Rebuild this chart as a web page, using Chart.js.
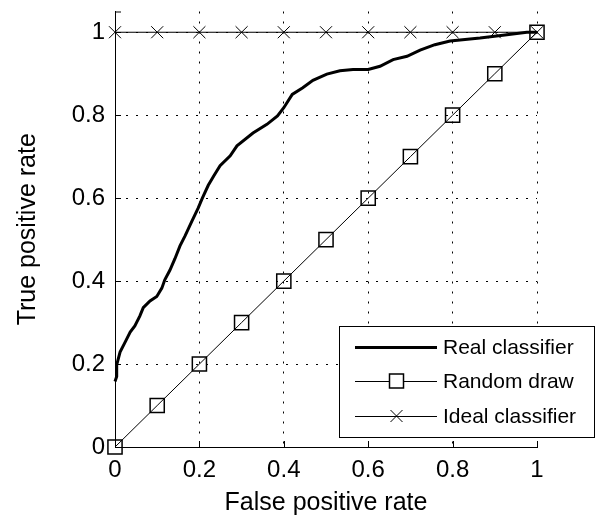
<!DOCTYPE html>
<html><head><meta charset="utf-8">
<script src="https://cdn.jsdelivr.net/npm/chart.js@4.4.0/dist/chart.umd.min.js"></script>
<style>html,body{margin:0;padding:0;background:#fff;} canvas{display:block;}</style>
</head><body>
<canvas id="c" width="596" height="519"></canvas>
<script>
const realFpr = [0, 0.004, 0.004, 0.012, 0.024, 0.036, 0.047, 0.059, 0.067, 0.083, 0.099, 0.111, 0.118, 0.130, 0.142, 0.154, 0.166, 0.182, 0.197, 0.207, 0.221, 0.235, 0.249, 0.273, 0.289, 0.327, 0.360, 0.385, 0.400, 0.420, 0.445, 0.469, 0.502, 0.533, 0.564, 0.600, 0.628, 0.659, 0.692, 0.723, 0.758, 0.794, 0.865, 0.919, 0.976, 1];
const realTpr = [0.158, 0.170, 0.198, 0.229, 0.253, 0.277, 0.292, 0.316, 0.336, 0.352, 0.363, 0.383, 0.403, 0.426, 0.454, 0.485, 0.509, 0.544, 0.576, 0.600, 0.631, 0.655, 0.678, 0.702, 0.726, 0.757, 0.778, 0.798, 0.818, 0.850, 0.866, 0.884, 0.899, 0.907, 0.910, 0.910, 0.918, 0.934, 0.942, 0.957, 0.970, 0.979, 0.986, 0.993, 1.0, 1.0];
const randomFpr = [0, 0.1, 0.2, 0.3, 0.4, 0.5, 0.6, 0.7, 0.8, 0.9, 1];
const randomTpr = [0, 0.1, 0.2, 0.3, 0.4, 0.5, 0.6, 0.7, 0.8, 0.9, 1];
const idealFpr = [0, 0.1, 0.2, 0.3, 0.4, 0.5, 0.6, 0.7, 0.8, 0.9, 1];
const idealTpr = [1, 1, 1, 1, 1, 1, 1, 1, 1, 1, 1];
const xTicks = [0, 0.2, 0.4, 0.6, 0.8, 1];
const yTicks = [0, 0.2, 0.4, 0.6, 0.8, 1];
const seriesNames = ['Real classifier', 'Random draw', 'Ideal classifier'];
const xTitle = 'False positive rate';
const yTitle = 'True positive rate';

const FONT = "'Liberation Sans', Arial, sans-serif";
const toPts = (xs, ys) => xs.map((x, i) => ({x: x, y: ys[i]}));
const fmt = v => String(Math.round(v * 10) / 10);

const axisPlugin = {
  id: 'axisExtras',
  afterDraw(chart) {
    const ctx = chart.ctx;
    const xs = chart.scales.x, ys = chart.scales.y;
    const a = chart.chartArea;
    ctx.save();
    ctx.strokeStyle = '#000';
    ctx.lineWidth = 1;
    ctx.beginPath();
    xTicks.forEach(v => {
      const px = Math.round(xs.getPixelForValue(v)) + 0.5;
      ctx.moveTo(px, a.bottom);
      ctx.lineTo(px, a.bottom - 6);
    });
    yTicks.forEach(v => {
      const py = Math.round(ys.getPixelForValue(v)) + 0.5;
      ctx.moveTo(a.left, py);
      ctx.lineTo(a.left + 6, py);
    });
    ctx.moveTo(a.left, a.top + 0.5);
    ctx.lineTo(a.left + 6, a.top + 0.5);
    ctx.stroke();

    // legend
    const bx = 339.5, by = 326.5, bw = 255, bh = 111;
    ctx.fillStyle = '#fff';
    ctx.fillRect(bx, by, bw, bh);
    ctx.strokeRect(bx, by, bw, bh);
    const rows = [347, 381, 416];
    const lx0 = 355, lx1 = 437, mx = 396.5;
    ctx.font = '21px ' + FONT;
    ctx.textBaseline = 'middle';
    ctx.textAlign = 'left';
    rows.forEach((ry, i) => {
      ctx.beginPath();
      ctx.lineWidth = i === 0 ? 3 : 1;
      ctx.moveTo(lx0, ry + 0.5);
      ctx.lineTo(lx1, ry + 0.5);
      ctx.stroke();
      if (i === 1) {
        ctx.lineWidth = 1.5;
        ctx.fillStyle = '#fff';
        ctx.fillRect(mx - 7, ry - 7, 14, 14);
        ctx.strokeRect(mx - 7, ry - 7, 14, 14);
      }
      if (i === 2) {
        ctx.lineWidth = 1;
        ctx.beginPath();
        ctx.moveTo(mx - 6, ry - 6); ctx.lineTo(mx + 6, ry + 6);
        ctx.moveTo(mx - 6, ry + 6); ctx.lineTo(mx + 6, ry - 6);
        ctx.stroke();
      }
      ctx.fillStyle = '#000';
      ctx.fillText(seriesNames[i], 443, ry + 1);
    });
    ctx.restore();
  }
};

new Chart(document.getElementById('c'), {
  type: 'scatter',
  data: {
    datasets: [
      {
        label: seriesNames[0],
        data: toPts(realFpr, realTpr),
        showLine: true,
        borderColor: '#000',
        borderWidth: 3,
        pointRadius: 0,
        tension: 0,
        clip: false,
        order: 3
      },
      {
        label: seriesNames[1],
        data: toPts(randomFpr, randomTpr),
        showLine: true,
        borderColor: '#000',
        borderWidth: 1,
        pointStyle: 'rect',
        pointRadius: 10,
        pointBorderWidth: 1.5,
        pointBorderColor: '#000',
        pointBackgroundColor: 'rgba(0,0,0,0)',
        clip: false,
        order: 2
      },
      {
        label: seriesNames[2],
        data: toPts(idealFpr, idealTpr),
        showLine: true,
        borderColor: '#000',
        borderWidth: 1.2,
        pointStyle: 'crossRot',
        pointRadius: 8.5,
        pointBorderWidth: 1,
        pointBorderColor: '#000',
        pointBackgroundColor: 'rgba(0,0,0,0)',
        clip: false,
        order: 1
      }
    ]
  },
  options: {
    responsive: false,
    animation: false,
    devicePixelRatio: 1,
    layout: {padding: {left: 0, right: 59, top: 4, bottom: 0}},
    plugins: {legend: {display: false}, tooltip: {enabled: false}},
    scales: {
      x: {
        type: 'linear',
        min: 0, max: 1,
        afterBuildTicks: s => { s.ticks = xTicks.map(v => ({value: v})); },
        afterFit: s => { s.height = 72; },
        ticks: {
          callback: v => fmt(v),
          font: {family: FONT, size: 24},
          color: '#000',
          padding: 9,
          maxRotation: 0,
          autoSkip: false
        },
        grid: {
          color: '#000', lineWidth: 1, drawTicks: false
        },
        border: {display: true, color: '#000', width: 1, dash: [2, 8]},
        title: {
          display: true, text: xTitle, color: '#000',
          font: {family: FONT, size: 25},
          padding: {top: 0, bottom: 1}
        }
      },
      y: {
        type: 'linear',
        min: 0, max: 1.05,
        afterBuildTicks: s => { s.ticks = yTicks.map(v => ({value: v})); },
        afterFit: s => { s.width = 115; s.paddingTop = 0; s.paddingBottom = 0; },
        ticks: {
          callback: v => fmt(v),
          font: {family: FONT, size: 24},
          color: '#000',
          padding: 10,
          autoSkip: false
        },
        grid: {
          color: '#000', lineWidth: 1, drawTicks: false
        },
        border: {display: true, color: '#000', width: 1, dash: [2, 8]},
        title: {
          display: true, text: yTitle, color: '#000',
          font: {family: FONT, size: 25},
          padding: {top: 13, bottom: 0}
        }
      }
    }
  },
  plugins: [axisPlugin]
});
</script>
</body></html>
